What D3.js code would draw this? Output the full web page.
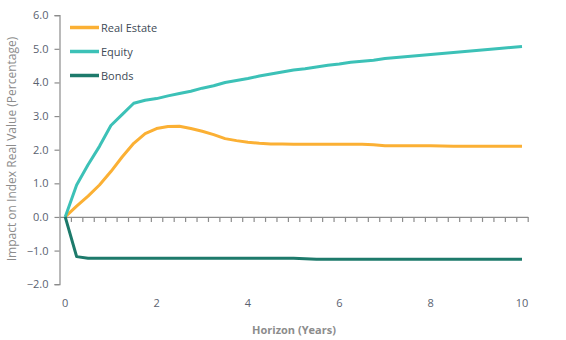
<!DOCTYPE html>
<html>
<head>
<meta charset="utf-8">
<script src="https://cdn.jsdelivr.net/npm/d3@7"></script>
<style>
  html, body { margin: 0; padding: 0; background: #fff; }
  svg { display: block; font-family: "Open Sans", "Noto Sans", sans-serif; }
</style>
</head>
<body>
<svg id="chart" width="566" height="340"></svg>
<script>
// Horizon in years, quarterly steps
const horizon = d3.range(0, 41).map(i => i / 4);

const realEstate = [
  0.00, 0.32, 0.62, 0.95, 1.35, 1.79, 2.19, 2.48, 2.63, 2.69,
  2.70, 2.63, 2.55, 2.45, 2.33, 2.27, 2.22, 2.19, 2.17, 2.17,
  2.16, 2.16, 2.16, 2.16, 2.16, 2.16, 2.16, 2.15, 2.12, 2.12,
  2.12, 2.12, 2.12, 2.11, 2.10, 2.10, 2.10, 2.10, 2.10, 2.10,
  2.10
];
const equity = [
  0.00, 0.95, 1.55, 2.10, 2.72, 3.05, 3.38, 3.47, 3.52, 3.60,
  3.67, 3.74, 3.83, 3.90, 4.00, 4.06, 4.12, 4.19, 4.25, 4.31,
  4.37, 4.41, 4.46, 4.51, 4.55, 4.60, 4.63, 4.66, 4.71, 4.74,
  4.77, 4.80, 4.83, 4.86, 4.89, 4.92, 4.95, 4.98, 5.01, 5.04,
  5.07
];
const bonds = [
  0.00, -1.18, -1.23, -1.23, -1.23, -1.23, -1.23, -1.23, -1.23, -1.23,
  -1.23, -1.23, -1.23, -1.23, -1.23, -1.23, -1.23, -1.23, -1.23, -1.23,
  -1.23, -1.24, -1.26, -1.26, -1.26, -1.26, -1.26, -1.26, -1.26, -1.26,
  -1.26, -1.26, -1.26, -1.26, -1.26, -1.26, -1.26, -1.26, -1.26, -1.26,
  -1.26
];

const seriesNames = ["Real Estate", "Equity", "Bonds"];
const seriesColors = ["#FBB034", "#3CC1B7", "#1D7A6B"];
const seriesValues = [realEstate, equity, bonds];

const yTicks = [-2, -1, 0, 1, 2, 3, 4, 5, 6];
const xTickLabels = [0, 2, 4, 6, 8, 10];

const svg = d3.select("#chart");

// Category-style axis: quarters sit between tick marks
const x = d3.scaleLinear().domain([-0.125, 10.125]).range([59.5, 527.7]);
const y = d3.scaleLinear().domain([-2, 6]).range([284.2, 15.2]);

const axisColor = "#8c8c8c";
const labelColor = "#5a6270";

// Y axis
const yAxis = svg.append("g").attr("transform", `translate(${x(-0.125)},0)`)
  .call(d3.axisLeft(y).tickValues(yTicks).tickSize(5).tickPadding(6)
    .tickFormat(d3.format(".1f")));
yAxis.select(".domain").attr("stroke", axisColor).attr("stroke-width", 1.2);
yAxis.selectAll(".tick line").attr("stroke", axisColor).attr("stroke-width", 1.2);
yAxis.selectAll(".tick text").attr("fill", labelColor)
  .style("font-size", "11px").style("font-family", "'Open Sans', sans-serif");

// X axis through zero: minor ticks between quarters
const minorTicks = d3.range(0, 41).map(i => i / 4 + 0.125);
const xAxis = svg.append("g").attr("transform", `translate(0,${y(0)})`)
  .call(d3.axisBottom(x).tickValues(minorTicks).tickSize(5).tickSizeOuter(0)
    .tickFormat(""));
xAxis.select(".domain").attr("stroke", axisColor).attr("stroke-width", 1.2);
xAxis.selectAll(".tick line").attr("stroke", axisColor).attr("stroke-width", 1.2);

// X tick labels at even years, placed below the plot
svg.append("g").selectAll("text").data(xTickLabels).join("text")
  .attr("x", d => x(d)).attr("y", 307)
  .attr("text-anchor", "middle")
  .attr("fill", labelColor)
  .style("font-size", "11px")
  .text(d => d);

// Axis titles
svg.append("text")
  .attr("x", 294).attr("y", 334)
  .attr("text-anchor", "middle")
  .attr("fill", "#8c8c8c")
  .style("font-size", "11px").style("font-weight", "bold")
  .text("Horizon (Years)");

svg.append("text")
  .attr("transform", `translate(16,149) rotate(-90)`)
  .attr("text-anchor", "middle")
  .attr("fill", "#8c8c8c")
  .style("font-size", "12px")
  .text("Impact on Index Real Value (Percentage)");

// Series lines
const line = d3.line().x((d, i) => x(horizon[i])).y(d => y(d));
svg.append("g").selectAll("path").data(seriesValues).join("path")
  .attr("d", line)
  .attr("fill", "none")
  .attr("stroke", (d, i) => seriesColors[i])
  .attr("stroke-width", 3)
  .attr("stroke-linejoin", "round");

// Legend
const legend = svg.append("g").selectAll("g").data(seriesNames).join("g")
  .attr("transform", (d, i) => `translate(70,${27.5 + i * 24})`);
legend.append("line")
  .attr("x1", 0).attr("x2", 29)
  .attr("stroke", (d, i) => seriesColors[i])
  .attr("stroke-width", 3.5);
legend.append("text")
  .attr("x", 31).attr("y", 4)
  .attr("fill", "#404a56")
  .style("font-size", "11px")
  .text(d => d);
</script>
</body>
</html>
